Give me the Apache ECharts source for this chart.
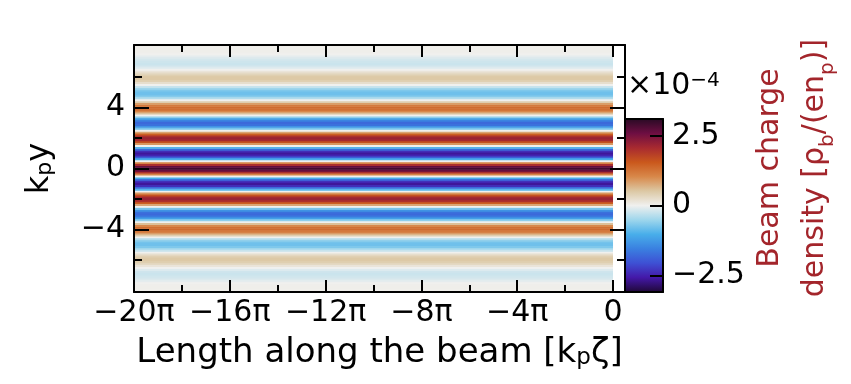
<!DOCTYPE html>
<html><head><meta charset="utf-8">
<script src="https://cdn.jsdelivr.net/npm/echarts@6/dist/echarts.min.js"></script>
<style>html,body{margin:0;padding:0;background:#fff}#c{width:851px;height:384px}</style>
</head><body><div id="c"></div>
<script>
const PI = Math.PI;
// rows of the density map: transverse position k_p y
const kpY = [
 -8,-7.875,-7.75,-7.625,-7.5,-7.375,-7.25,-7.125,
 -7,-6.875,-6.75,-6.625,-6.5,-6.375,-6.25,-6.125,
 -6,-5.875,-5.75,-5.625,-5.5,-5.375,-5.25,-5.125,
 -5,-4.875,-4.75,-4.625,-4.5,-4.375,-4.25,-4.125,
 -4,-3.875,-3.75,-3.625,-3.5,-3.375,-3.25,-3.125,
 -3,-2.875,-2.75,-2.625,-2.5,-2.375,-2.25,-2.125,
 -2,-1.875,-1.75,-1.625,-1.5,-1.375,-1.25,-1.125,
 -1,-0.875,-0.75,-0.625,-0.5,-0.375,-0.25,-0.125,
 0,0.125,0.25,0.375,0.5,0.625,0.75,0.875,
 1,1.125,1.25,1.375,1.5,1.625,1.75,1.875,
 2,2.125,2.25,2.375,2.5,2.625,2.75,2.875,
 3,3.125,3.25,3.375,3.5,3.625,3.75,3.875,
 4,4.125,4.25,4.375,4.5,4.625,4.75,4.875,
 5,5.125,5.25,5.375,5.5,5.625,5.75,5.875,
 6,6.125,6.25,6.375,6.5,6.625,6.75,6.875,
 7,7.125,7.25,7.375,7.5,7.625,7.75,7.875,8];
// beam charge density, units of 1e-4 (rho_b/(e n_p)), uniform along the beam
const density = [
 0.03,0.03,0.03,0.02,0,-0.07,-0.13,-0.19,
 -0.22,-0.24,-0.21,-0.12,0,0.15,0.30,0.43,
 0.5,0.50,0.41,0.23,0,-0.26,-0.51,-0.70,
 -0.8,-0.80,-0.66,-0.39,0,0.44,0.86,1.18,
 1.35,1.30,1.03,0.58,0,-0.62,-1.19,-1.61,
 -1.8,-1.71,-1.34,-0.75,0,0.79,1.48,1.99,
 2.2,2.09,1.63,0.91,0,-0.95,-1.79,-2.39,
 -2.65,-2.48,-1.92,-1.05,0,1.08,2.01,2.65,
 2.9,2.65,2.01,1.08,0,-1.05,-1.92,-2.48,
 -2.65,-2.39,-1.79,-0.95,0,0.91,1.63,2.09,
 2.2,1.99,1.48,0.79,0,-0.75,-1.34,-1.71,
 -1.8,-1.61,-1.19,-0.62,0,0.58,1.03,1.30,
 1.35,1.18,0.86,0.44,0,-0.39,-0.66,-0.80,
 -0.8,-0.70,-0.51,-0.26,0,0.23,0.41,0.50,
 0.5,0.43,0.30,0.15,0,-0.12,-0.21,-0.24,
 -0.22,-0.19,-0.13,-0.07,0,0.02,0.03,0.03,0.03];
// beam extent along k_p zeta (in units of pi)
const zetaStartPi = -20, zetaEndPi = 0;
// axis ticks
const xMajorPi = [-20,-16,-12,-8,-4,0];
const xMinorPi = [-18,-14,-10,-6,-2];
const yMajor = [-4,0,4];
const yMinor = [-6,-2,2,6];
const cbarTicks = [-2.5,0,2.5];
const cbarRange = [-3.1,3.1];
const cmapColors = ['#200838','#4418a8','#3e50d4','#3a80e0','#48aeea','#9ed6ec','#f0f0ee','#dcc8a4','#d8884a','#ca581c','#a82a30','#6e0e42','#2a0a25'];

const FONT = 'DejaVu Sans';
const halfRow = (kpY[1]-kpY[0])/2;
const stripeData = kpY.map((y,i)=>[zetaStartPi*PI, zetaEndPi*PI, y, density[i]]);

function renderStripe(params, api){
  const p0 = api.coord([api.value(0), api.value(2)+halfRow]);
  const p1 = api.coord([api.value(1), api.value(2)-halfRow]);
  return {type:'rect', shape:{x:p0[0], y:p0[1]-0.3, width:p1[0]-p0[0], height:p1[1]-p0[1]+0.6},
          style:{fill: api.visual('color')}};
}
function renderCbar(params, api){
  const p0 = api.coord([api.value(0), api.value(3)]);
  const p1 = api.coord([api.value(1), api.value(2)]);
  const n = cmapColors.length;
  const stops = cmapColors.map((c,i)=>({offset: i/(n-1), color: c}));
  return {type:'rect', shape:{x:p0[0], y:p0[1], width:p1[0]-p0[0], height:p1[1]-p0[1]},
          style:{fill: new echarts.graphic.LinearGradient(0,1,0,0,stops)}};
}

const black = '#000';
function ax(extra){
  return Object.assign({type:'value', z:10, splitLine:{show:false},
    axisLine:{show:false, onZero:false, lineStyle:{color:black,width:2}},
    axisLabel:{show:false}, axisTick:{show:false}}, extra);
}
function ticks(vals, len){
  return {show:true, inside:true, length:len, customValues: vals, lineStyle:{color:black,width:2}};
}
const xMin = -20*PI, xMax = 0.5*PI;
const yMin = -8.1, yMax = 8.1;
const labelStyle = {color:black, fontSize:30, fontFamily:FONT};

const option = {
  animation:false,
  backgroundColor:'#fff',
  grid:[
    {left:134, right:226, top:45, bottom:92},
    {left:625, right:188, top:119, bottom:92}
  ],
  xAxis:[
    ax({gridIndex:0, min:xMin, max:xMax, position:'bottom',
      axisLine:{show:true, onZero:false, lineStyle:{color:black,width:2}},
      axisTick:ticks(xMajorPi.map(v=>v*PI), 12),
      axisLabel:Object.assign({show:true, margin:6, customValues:xMajorPi.map(v=>v*PI),
        formatter:v=>{const k=Math.round(v/PI); return k===0?'0':'\u2212'+Math.abs(k)+'\u03c0';}}, labelStyle),
      name:'Length along the beam [k{sub|p}\u03b6]', nameLocation:'middle', nameGap:44,
      nameTextStyle:{color:black, fontSize:34, fontFamily:FONT, rich:{sub:{fontSize:23, fontFamily:FONT, verticalAlign:'bottom', lineHeight:24}}}}),
    ax({gridIndex:0, min:xMin, max:xMax, position:'bottom', axisTick:ticks(xMinorPi.map(v=>v*PI), 7)}),
    ax({gridIndex:0, min:xMin, max:xMax, position:'top',
      axisLine:{show:true, onZero:false, lineStyle:{color:black,width:2}},
      axisTick:ticks(xMajorPi.map(v=>v*PI), 12)}),
    ax({gridIndex:0, min:xMin, max:xMax, position:'top', axisTick:ticks(xMinorPi.map(v=>v*PI), 7)}),
    ax({gridIndex:1, min:0, max:1, position:'bottom', axisLine:{show:true, onZero:false, lineStyle:{color:black,width:2}}}),
    ax({gridIndex:1, min:0, max:1, position:'top', axisLine:{show:true, onZero:false, lineStyle:{color:black,width:2}}})
  ],
  yAxis:[
    ax({gridIndex:0, min:yMin, max:yMax, position:'left',
      axisLine:{show:true, onZero:false, lineStyle:{color:black,width:2}},
      axisTick:ticks(yMajor, 15),
      axisLabel:Object.assign({show:true, margin:9, customValues:yMajor,
        formatter:v=>v<0?'\u2212'+Math.abs(v):String(v)}, labelStyle),
      name:'k{sub|p}y', nameLocation:'middle', nameRotate:90, nameGap:78,
      nameTextStyle:{color:black, fontSize:32, fontFamily:FONT, rich:{sub:{fontSize:22, fontFamily:FONT, verticalAlign:'bottom', lineHeight:22}}}}),
    ax({gridIndex:0, min:yMin, max:yMax, position:'left', axisTick:ticks(yMinor, 8)}),
    ax({gridIndex:0, min:yMin, max:yMax, position:'right',
      axisLine:{show:true, onZero:false, lineStyle:{color:black,width:2}},
      axisTick:ticks(yMajor, 15)}),
    ax({gridIndex:0, min:yMin, max:yMax, position:'right', axisTick:ticks(yMinor, 8)}),
    ax({gridIndex:1, min:cbarRange[0], max:cbarRange[1], position:'right',
      axisLine:{show:true, onZero:false, lineStyle:{color:black,width:2}},
      axisTick:ticks(cbarTicks, 13),
      axisLabel:Object.assign({show:true, margin:9, customValues:cbarTicks,
        formatter:v=>v<0?'\u2212'+Math.abs(v):String(v)}, labelStyle)}),
    ax({gridIndex:1, min:cbarRange[0], max:cbarRange[1], position:'left',
      axisLine:{show:true, onZero:false, lineStyle:{color:black,width:2}}})
  ],
  visualMap:{show:false, type:'continuous', seriesIndex:0, dimension:3,
    min:cbarRange[0], max:cbarRange[1], inRange:{color:cmapColors}},
  series:[
    {type:'custom', xAxisIndex:0, yAxisIndex:0, clip:true, renderItem:renderStripe,
     encode:{x:[0,1], y:2}, data:stripeData},
    {type:'custom', xAxisIndex:4, yAxisIndex:4, renderItem:renderCbar,
     encode:{x:[0,1], y:[2,3]}, data:[[0,1,cbarRange[0],cbarRange[1]]]}
  ],
  graphic:[
    {type:'text', x:627, y:86, style:{text:'\u00d710{sup|\u22124}', fill:black, font:'30px "DejaVu Sans"',
      verticalAlign:'middle', rich:{sup:{fontSize:20, fontFamily:FONT, verticalAlign:'top', lineHeight:30}}}},
    {type:'text', x:793, y:168, rotation:PI/2,
      style:{text:'Beam charge\ndensity [\u03c1{sub|b}/(en{sub|p})]', fill:'#a3252b', font:'30px "DejaVu Sans"',
        align:'center', verticalAlign:'middle', lineHeight:45,
        rich:{sub:{fontSize:20, fontFamily:FONT, fill:'#a3252b', verticalAlign:'bottom', lineHeight:36}}}}
  ]
};
const chart = echarts.init(document.getElementById('c'), null, {renderer:'canvas'});
chart.setOption(option);
</script></body></html>
